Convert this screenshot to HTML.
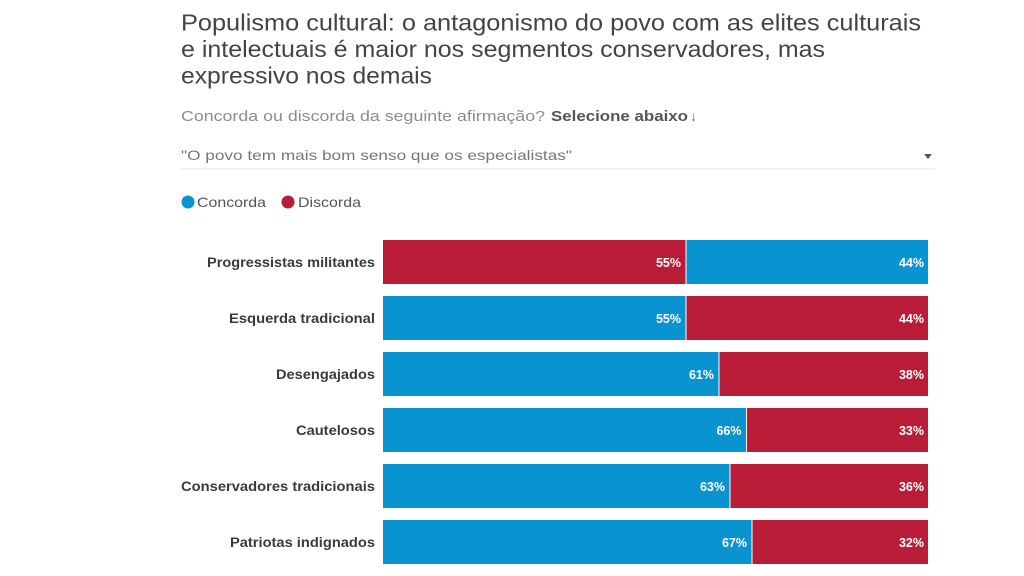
<!DOCTYPE html>
<html>
<head>
<meta charset="utf-8">
<style>
  html,body{margin:0;padding:0;background:#fff;}
  svg{display:block;}
  text{font-family:"Liberation Sans","DejaVu Sans",sans-serif;}
</style>
</head>
<body>
<svg width="1024" height="576" viewBox="0 0 1024 576" xmlns="http://www.w3.org/2000/svg">
  <rect x="0" y="0" width="1024" height="576" fill="#ffffff"/>

  <!-- Title -->
  <g fill="#444" font-size="23">
    <text x="181" y="30.5" textLength="740" lengthAdjust="spacingAndGlyphs">Populismo cultural: o antagonismo do povo com as elites culturais</text>
    <text x="181" y="57" textLength="644" lengthAdjust="spacingAndGlyphs">e intelectuais é maior nos segmentos conservadores, mas</text>
    <text x="181" y="83.5" textLength="251" lengthAdjust="spacingAndGlyphs">expressivo nos demais</text>
  </g>

  <!-- Subtitle -->
  <text x="181" y="121" font-size="15" fill="#8c8c8c" textLength="364" lengthAdjust="spacingAndGlyphs">Concorda ou discorda da seguinte afirmação?</text>
  <text x="551" y="121" font-size="15" font-weight="bold" fill="#555" textLength="137" lengthAdjust="spacingAndGlyphs">Selecione abaixo</text>
  <text x="690" y="121" font-size="14" fill="#777">↓</text>

  <!-- Dropdown -->
  <text x="181" y="160" font-size="14" fill="#777" textLength="391" lengthAdjust="spacingAndGlyphs">"O povo tem mais bom senso que os especialistas"</text>
  <path d="M924 154 L932 154 L928 159 Z" fill="#555"/>
  <rect x="181" y="168.5" width="754" height="1" fill="#e2e2e2"/>

  <!-- Legend -->
  <circle cx="188" cy="202" r="6.5" fill="#0a93d1"/>
  <text x="197" y="207" font-size="14" fill="#555" textLength="69" lengthAdjust="spacingAndGlyphs">Concorda</text>
  <circle cx="288" cy="202" r="6.5" fill="#b81c36"/>
  <text x="298" y="207" font-size="14" fill="#555" textLength="63" lengthAdjust="spacingAndGlyphs">Discorda</text>

  <!-- Rows -->
  <g font-weight="bold">
    <!-- Row 1 -->
    <text x="375" y="267" font-size="13.5" fill="#3a3a3a" text-anchor="end" textLength="168" lengthAdjust="spacingAndGlyphs">Progressistas militantes</text>
    <rect x="383" y="240" width="302.5" height="44" fill="#b81c36"/>
    <rect x="686.5" y="240" width="241.5" height="44" fill="#0a93d1"/>
    <text x="681" y="267" font-size="12.5" fill="#fff" text-anchor="end">55%</text>
    <text x="924" y="267" font-size="12.5" fill="#fff" text-anchor="end">44%</text>

    <!-- Row 2 -->
    <text x="375" y="323" font-size="13.5" fill="#3a3a3a" text-anchor="end" textLength="146" lengthAdjust="spacingAndGlyphs">Esquerda tradicional</text>
    <rect x="383" y="296" width="302.5" height="44" fill="#0a93d1"/>
    <rect x="686.5" y="296" width="241.5" height="44" fill="#b81c36"/>
    <text x="681" y="323" font-size="12.5" fill="#fff" text-anchor="end">55%</text>
    <text x="924" y="323" font-size="12.5" fill="#fff" text-anchor="end">44%</text>

    <!-- Row 3 -->
    <text x="375" y="379" font-size="13.5" fill="#3a3a3a" text-anchor="end" textLength="99" lengthAdjust="spacingAndGlyphs">Desengajados</text>
    <rect x="383" y="352" width="335.5" height="44" fill="#0a93d1"/>
    <rect x="719.5" y="352" width="208.5" height="44" fill="#b81c36"/>
    <text x="714" y="379" font-size="12.5" fill="#fff" text-anchor="end">61%</text>
    <text x="924" y="379" font-size="12.5" fill="#fff" text-anchor="end">38%</text>

    <!-- Row 4 -->
    <text x="375" y="435" font-size="13.5" fill="#3a3a3a" text-anchor="end" textLength="79" lengthAdjust="spacingAndGlyphs">Cautelosos</text>
    <rect x="383" y="408" width="363" height="44" fill="#0a93d1"/>
    <rect x="747" y="408" width="181" height="44" fill="#b81c36"/>
    <text x="741.5" y="435" font-size="12.5" fill="#fff" text-anchor="end">66%</text>
    <text x="924" y="435" font-size="12.5" fill="#fff" text-anchor="end">33%</text>

    <!-- Row 5 -->
    <text x="375" y="491" font-size="13.5" fill="#3a3a3a" text-anchor="end" textLength="194" lengthAdjust="spacingAndGlyphs">Conservadores tradicionais</text>
    <rect x="383" y="464" width="346.5" height="44" fill="#0a93d1"/>
    <rect x="730.5" y="464" width="197.5" height="44" fill="#b81c36"/>
    <text x="725" y="491" font-size="12.5" fill="#fff" text-anchor="end">63%</text>
    <text x="924" y="491" font-size="12.5" fill="#fff" text-anchor="end">36%</text>

    <!-- Row 6 -->
    <text x="375" y="547" font-size="13.5" fill="#3a3a3a" text-anchor="end" textLength="145" lengthAdjust="spacingAndGlyphs">Patriotas indignados</text>
    <rect x="383" y="520" width="368.5" height="44" fill="#0a93d1"/>
    <rect x="752.5" y="520" width="175.5" height="44" fill="#b81c36"/>
    <text x="747" y="547" font-size="12.5" fill="#fff" text-anchor="end">67%</text>
    <text x="924" y="547" font-size="12.5" fill="#fff" text-anchor="end">32%</text>
  </g>
</svg>
</body>
</html>
